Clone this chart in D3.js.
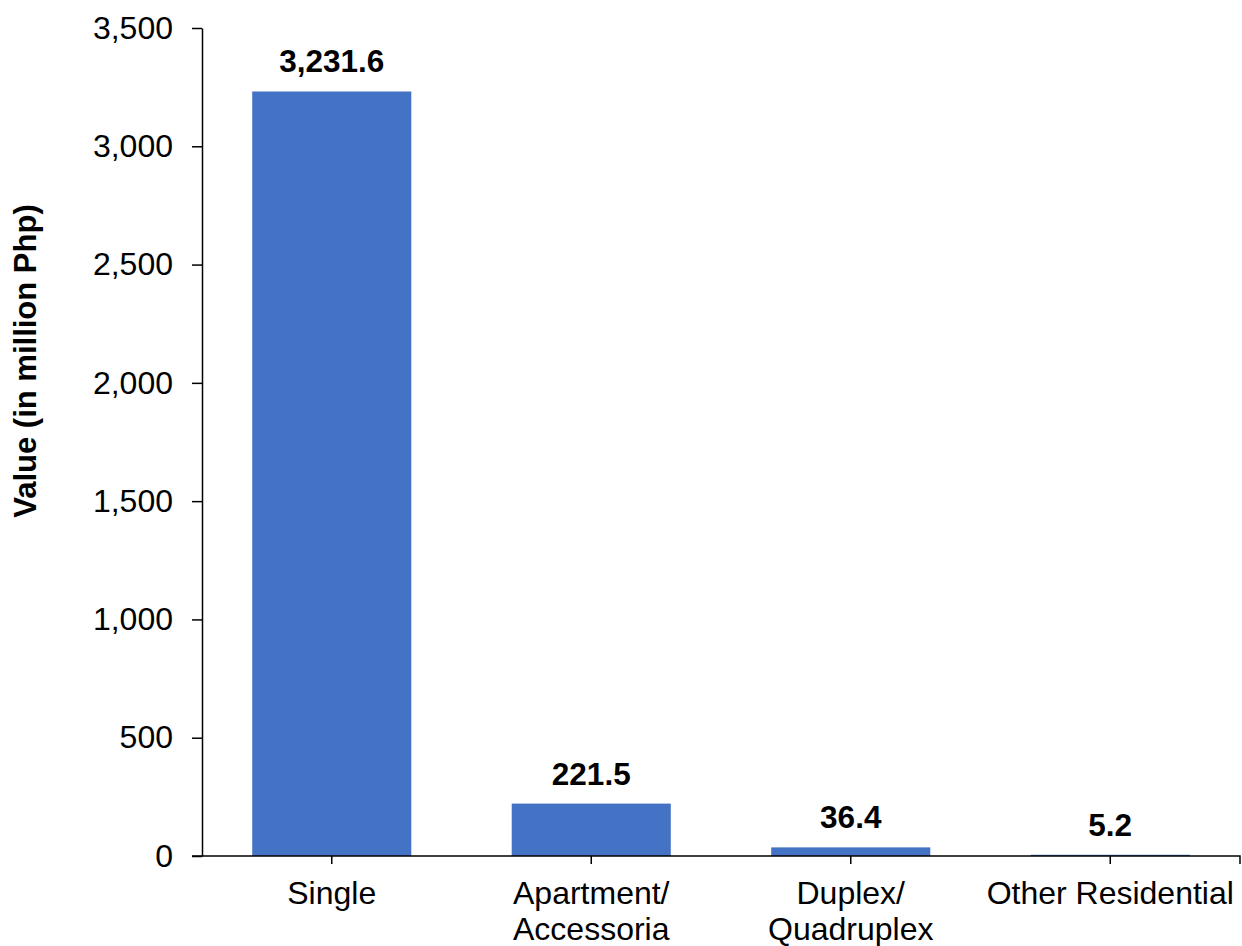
<!DOCTYPE html>
<html>
<head>
<meta charset="utf-8">
<script src="https://cdn.jsdelivr.net/npm/d3@7"></script>
<style>
  html, body { margin: 0; padding: 0; background: #ffffff; }
  svg { display: block; }
  text { font-family: "Liberation Sans", Arial, sans-serif; fill: #000; }
</style>
</head>
<body>
<script>
// Residential building construction value by type
const categories = ["Single", "Apartment/Accessoria", "Duplex/Quadruplex", "Other Residential"];
const values = [3231.6, 221.5, 36.4, 5.2];
const yTicks = [0, 500, 1000, 1500, 2000, 2500, 3000, 3500];
const yTitle = "Value (in million Php)";

const W = 1242, H = 946;
const plotLeft = 202, plotRight = 1240, plotTop = 28, plotBottom = 856;

const svg = d3.select("body").append("svg")
  .attr("width", W).attr("height", H);

const x = d3.scaleBand()
  .domain(categories)
  .range([plotLeft, plotRight])
  .paddingInner(0.387)
  .paddingOuter(0.1935);

const y = d3.scaleLinear()
  .domain([0, 3500])
  .range([plotBottom, plotTop]);

const fmt = d3.format(",");
const fmtVal = d3.format(",.1f");

// Bars
svg.append("g").selectAll("rect")
  .data(categories)
  .join("rect")
  .attr("x", d => x(d))
  .attr("width", x.bandwidth())
  .attr("y", (d, i) => y(values[i]))
  .attr("height", (d, i) => y(0) - y(values[i]))
  .attr("fill", "#4472C4");

// Value labels
svg.append("g").selectAll("text")
  .data(categories)
  .join("text")
  .attr("x", d => x(d) + x.bandwidth() / 2)
  .attr("y", (d, i) => y(values[i]) - 19)
  .attr("text-anchor", "middle")
  .attr("font-size", 31.5)
  .attr("font-weight", "bold")
  .text((d, i) => fmtVal(values[i]));

// Y axis
const yAxis = d3.axisLeft(y)
  .tickValues(yTicks)
  .tickFormat(fmt)
  .tickSize(10)
  .tickSizeOuter(0)
  .tickPadding(19);

const gy = svg.append("g")
  .attr("transform", `translate(${plotLeft},0)`)
  .call(yAxis);
gy.select(".domain").attr("stroke", "#000").attr("stroke-width", 1.5);
gy.selectAll(".tick line").attr("stroke", "#000").attr("stroke-width", 1.5);
gy.selectAll(".tick text")
  .attr("font-size", 32)
  .attr("font-family", "Liberation Sans, Arial, sans-serif")
  .attr("fill", "#000");

// X axis: ticks at category centres, plus the range end
const xAxis = d3.axisBottom(x)
  .tickSize(8)
  .tickSizeOuter(8)
  .tickFormat("");

const gx = svg.append("g")
  .attr("transform", `translate(0,${plotBottom})`)
  .call(xAxis);
gx.select(".domain")
  .attr("stroke", "#000").attr("stroke-width", 1.5)
  .attr("d", `M${plotLeft - 10},0H${plotRight}V8`);
gx.selectAll(".tick line").attr("stroke", "#000").attr("stroke-width", 1.5);

// Category labels, broken after "/"
const labels = svg.append("g").selectAll("text")
  .data(categories)
  .join("text")
  .attr("x", d => x(d) + x.bandwidth() / 2)
  .attr("y", plotBottom + 48)
  .attr("text-anchor", "middle")
  .attr("font-size", 32);

labels.each(function(d) {
  const cut = d.indexOf("/");
  const parts = cut >= 0 ? [d.slice(0, cut + 1), d.slice(cut + 1)] : [d];
  const t = d3.select(this);
  parts.forEach((p, i) => {
    t.append("tspan")
      .attr("x", x(d) + x.bandwidth() / 2)
      .attr("dy", i === 0 ? 0 : 36)
      .text(p);
  });
});

// Y axis title
svg.append("text")
  .attr("transform", "translate(36,361) rotate(-90)")
  .attr("text-anchor", "middle")
  .attr("font-size", 31)
  .attr("font-weight", "bold")
  .text(yTitle);
</script>
</body>
</html>
